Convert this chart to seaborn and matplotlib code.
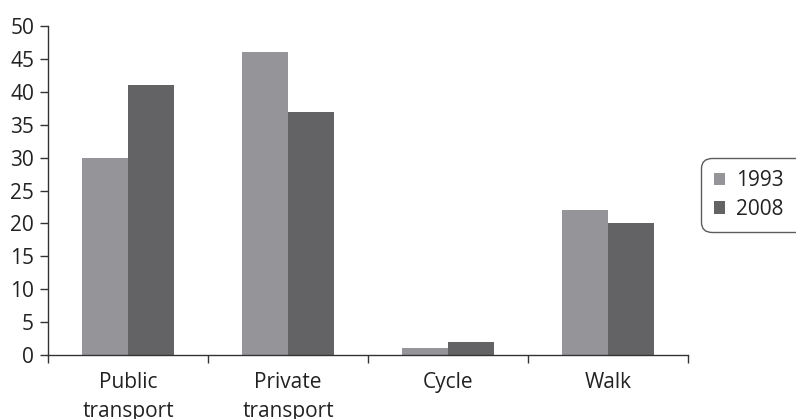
import matplotlib
matplotlib.use("Agg")
import matplotlib.pyplot as plt
import seaborn as sns
import pandas as pd

categories = ["Public\ntransport", "Private\ntransport", "Cycle", "Walk"]
values_1993 = [30, 46, 1, 22]
values_2008 = [41, 37, 2, 20]
years = ["1993", "2008"]
y_ticks = list(range(0, 51, 5))

df = pd.DataFrame({
    "mode": categories * 2,
    "year": [years[0]] * 4 + [years[1]] * 4,
    "share": values_1993 + values_2008,
})

sns.set_theme(style="white")
plt.rcParams["font.family"] = ["Open Sans", "DejaVu Sans"]

fig = plt.figure(figsize=(7.96, 4.19), dpi=100)
ax = fig.add_axes([0.0603, 0.1527, 0.8040, 0.7852])

palette = {"1993": "#959599", "2008": "#636366"}
sns.barplot(data=df, x="mode", y="share", hue="year", palette=palette,
            width=0.58, saturation=1, ax=ax, linewidth=0, legend=True)

ax.set_xlim(-0.5, 3.5)
ax.set_ylim(0, 50)
ax.set_yticks(y_ticks)
ax.set_xlabel("")
ax.set_ylabel("")
for s in ["top", "right"]:
    ax.spines[s].set_visible(False)
for s in ["left", "bottom"]:
    ax.spines[s].set_color("#333333")
    ax.spines[s].set_linewidth(1.0)

ax.set_xticks([-0.5, 0.5, 1.5, 2.5, 3.5], minor=False)
ax.set_xticklabels([])
ax.set_xticks([0, 1, 2, 3], minor=True)
ax.set_xticklabels(categories, minor=True, fontsize=15, color="#222222",
                   linespacing=1.55)
ax.tick_params(axis="x", which="major", direction="out", length=6,
               width=1, color="#333333", bottom=True)
ax.tick_params(axis="x", which="minor", length=0, pad=12, bottom=True)
ax.tick_params(axis="y", direction="out", length=6, width=1,
               color="#333333", left=True, labelsize=15,
               labelcolor="#222222", pad=4)

leg = ax.legend(loc="upper left", bbox_to_anchor=(0.881, 0.452, 0.2, 0.171),
                bbox_transform=fig.transFigure, mode="expand", frameon=True,
                fancybox=True, fontsize=15, handlelength=0.55,
                handleheight=0.55, handletextpad=0.5, borderpad=0.6,
                labelspacing=0.35, borderaxespad=0)
for t in leg.get_texts():
    t.set_color("#222222")
frame = leg.get_frame()
frame.set_edgecolor("#333333")
frame.set_linewidth(1.0)
frame.set_boxstyle("round,pad=0,rounding_size=0.5")

fig.savefig("out.png", dpi=100)
